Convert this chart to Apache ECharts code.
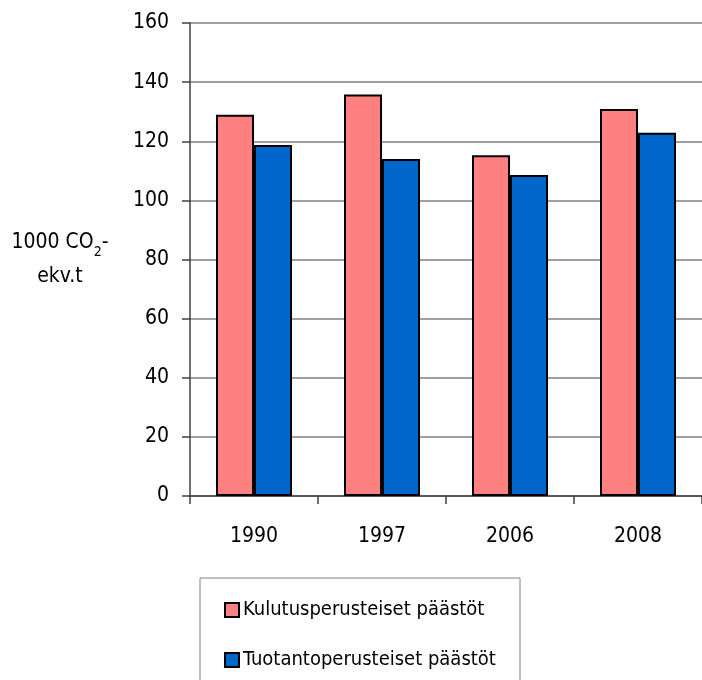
<!DOCTYPE html>
<html>
<head>
<meta charset="utf-8">
<script src="https://cdn.jsdelivr.net/npm/echarts@6/dist/echarts.min.js"></script>
<style>
  html, body { margin: 0; padding: 0; background: #fff; }
  #main { width: 702px; height: 680px; }
</style>
</head>
<body>
<div id="main"></div>
<script>
var years = ['1990', '1997', '2006', '2008'];
var kulutus = [129, 135.8, 115.3, 130.9];
var tuotanto = [118.7, 114, 108.6, 122.9];
var yTicks = [0, 20, 40, 60, 80, 100, 120, 140, 160];

// kapea fontti kuten alkuperäisessä
var font = '"DejaVu Sans Condensed", "Liberation Sans", sans-serif';

var myChart = echarts.init(document.getElementById('main'));
var option = {
    backgroundColor: '#fff',
    animation: false,
    textStyle: { fontFamily: font },
    grid: { left: 190, top: 23, width: 517, bottom: 184, containLabel: false },
    graphic: [{
        // legendan kehys
        type: 'rect',
        shape: { x: 200, y: 578, width: 320, height: 110 },
        style: { fill: 'none', stroke: '#808080', lineWidth: 1 }
    }],
    legend: {
        orient: 'vertical',
        left: 219,
        top: 595,
        height: 200,
        itemWidth: 14,
        itemHeight: 14,
        itemGap: 30,
        icon: 'rect',
        textStyle: { fontFamily: font, fontSize: 20, color: '#000', padding: [0, 0, 0, -1] },
        data: ['Kulutusperusteiset päästöt', 'Tuotantoperusteiset päästöt']
    },
    xAxis: {
        type: 'category',
        data: years,
        axisLine: { lineStyle: { color: '#404040', width: 1.5 } },
        axisTick: { show: true, length: 8, lineStyle: { color: '#404040', width: 1.5 } },
        axisLabel: { fontFamily: font, fontSize: 21, color: '#000', margin: 30 }
    },
    yAxis: {
        type: 'value',
        min: yTicks[0],
        max: yTicks[yTicks.length - 1],
        interval: 20,
        name: '{a|1000 CO}{s|2}{a|-}\n{a|ekv.t}',
        nameLocation: 'middle',
        nameRotate: 0,
        nameGap: 130,
        nameTextStyle: {
            align: 'center',
            lineHeight: 34,
            rich: {
                a: { fontFamily: font, fontSize: 21, color: '#000', lineHeight: 34 },
                s: { fontFamily: font, fontSize: 14, color: '#000', verticalAlign: 'bottom', padding: [7, 0, 0, 0] }
            }
        },
        axisLine: { show: true, lineStyle: { color: '#404040', width: 1.5 } },
        axisTick: { show: true, length: 8, lineStyle: { color: '#404040', width: 1.5 } },
        axisLabel: { fontFamily: font, fontSize: 21, color: '#000', margin: 21 },
        splitLine: { lineStyle: { color: '#808080', width: 1.5 } }
    },
    series: [{
        name: 'Kulutusperusteiset päästöt',
        type: 'bar',
        data: kulutus,
        barWidth: 38,
        barGap: '0%',
        itemStyle: { color: '#ff8080', borderColor: '#000', borderWidth: 2 }
    }, {
        name: 'Tuotantoperusteiset päästöt',
        type: 'bar',
        data: tuotanto,
        barWidth: 38,
        barGap: '0%',
        itemStyle: { color: '#0066cc', borderColor: '#000', borderWidth: 2 }
    }]
};
myChart.setOption(option);
</script>
</body>
</html>
